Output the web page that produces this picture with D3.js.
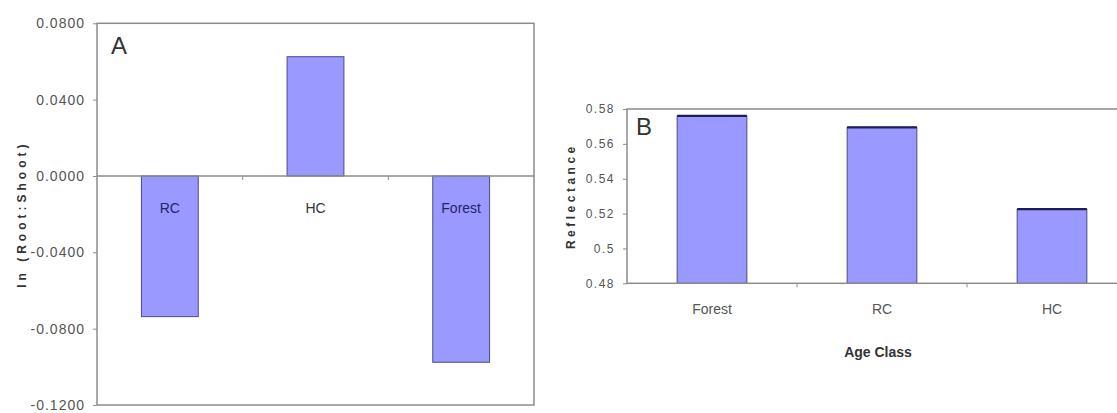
<!DOCTYPE html>
<html>
<head>
<meta charset="utf-8">
<script src="https://cdn.jsdelivr.net/npm/d3@7"></script>
<style>
  html, body { margin: 0; padding: 0; background: #fff; }
  svg { display: block; }
  text { font-family: "Liberation Sans", Arial, sans-serif; }
</style>
</head>
<body>
<svg id="chart" width="1117" height="413"></svg>
<script>
// ---------- Data ----------
const categoriesA = ["RC", "HC", "Forest"];
const valuesA = [-0.0737, 0.0625, -0.0976];
const ticksA = [-0.12, -0.08, -0.04, 0.0, 0.04, 0.08];

const categoriesB = ["Forest", "RC", "HC"];
const valuesB = [0.576, 0.5695, 0.5225];
const ticksB = [0.48, 0.50, 0.52, 0.54, 0.56, 0.58];

const yTitleA = "ln (Root:Shoot)";
const yTitleB = "Reflectance";
const xTitleB = "Age Class";

// ---------- Styles ----------
const barFill = "#9999ff";
const barStroke = "#4a4a8c";
const barTop = "#1e1e55";
const frameColor = "#8c8c8c";
const tickTextColor = "#555";

const svg = d3.select("#chart");

// ================= Panel A =================
const A = { left: 97, right: 534, top: 23.3, bottom: 405 };
const xA = d3.scaleBand().domain(categoriesA).range([A.left, A.right])
  .paddingInner(0.61).paddingOuter(0.305);
const yA = d3.scaleLinear().domain([-0.12, 0.08]).range([A.bottom, A.top]);

const gA = svg.append("g");

// bars
gA.selectAll("rect.bar").data(categoriesA).join("rect")
  .attr("class", "bar")
  .attr("x", d => xA(d))
  .attr("width", xA.bandwidth())
  .attr("y", (d, i) => yA(Math.max(0, valuesA[i])))
  .attr("height", (d, i) => Math.abs(yA(valuesA[i]) - yA(0)))
  .attr("fill", barFill)
  .attr("stroke", barStroke)
  .attr("stroke-width", 1);

// frame
gA.append("rect")
  .attr("x", A.left).attr("y", A.top)
  .attr("width", A.right - A.left).attr("height", A.bottom - A.top)
  .attr("fill", "none").attr("stroke", frameColor).attr("stroke-width", 1.5);

// zero (category) axis line
gA.append("line")
  .attr("x1", A.left).attr("x2", A.right)
  .attr("y1", yA(0)).attr("y2", yA(0))
  .attr("stroke", frameColor).attr("stroke-width", 1.5);

// category boundary ticks
gA.selectAll("line.ctick").data(d3.range(1, categoriesA.length)).join("line")
  .attr("class", "ctick")
  .attr("x1", i => A.left + i * xA.step()).attr("x2", i => A.left + i * xA.step())
  .attr("y1", yA(0)).attr("y2", yA(0) + 4)
  .attr("stroke", frameColor);

// y axis
const axA = gA.append("g")
  .attr("transform", `translate(${A.left},0)`)
  .call(d3.axisLeft(yA).tickValues(ticksA)
    .tickFormat(d => d.toFixed(4)).tickSize(4).tickPadding(8));
axA.select(".domain").remove();
axA.selectAll(".tick line").attr("stroke", frameColor);
axA.selectAll(".tick text")
  .attr("fill", tickTextColor)
  .style("font-size", "14px")
  .style("font-family", "'Liberation Sans Narrow', 'Liberation Sans', Arial, sans-serif")
  .style("letter-spacing", "1px");

// category labels
gA.selectAll("text.cat").data(categoriesA).join("text")
  .attr("class", "cat")
  .attr("x", d => xA(d) + xA.bandwidth() / 2)
  .attr("y", yA(0) + 37)
  .attr("text-anchor", "middle")
  .attr("fill", (d, i) => valuesA[i] < 0 ? "#242466" : "#333")
  .style("font-size", "14px")
  .text(d => d);

// panel letter
gA.append("text").attr("x", 111).attr("y", 54)
  .attr("fill", "#333").style("font-size", "24px").text("A");

// y title
gA.append("text")
  .attr("transform", `translate(26,${(A.top + A.bottom) / 2}) rotate(-90)`)
  .attr("text-anchor", "middle")
  .attr("fill", "#333")
  .style("font-size", "12px").style("font-weight", "bold")
  .style("letter-spacing", "4px")
  .text(yTitleA);

// ================= Panel B =================
const B = { left: 627, right: 1137, top: 109, bottom: 283.3 };
const xB = d3.scaleBand().domain(categoriesB).range([B.left, B.right])
  .paddingInner(0.59).paddingOuter(0.295);
const yB = d3.scaleLinear().domain([0.48, 0.58]).range([B.bottom, B.top]);

const gB = svg.append("g");

// bars
gB.selectAll("rect.bar").data(categoriesB).join("rect")
  .attr("class", "bar")
  .attr("x", d => xB(d))
  .attr("width", xB.bandwidth())
  .attr("y", (d, i) => yB(valuesB[i]))
  .attr("height", (d, i) => yB(0.48) - yB(valuesB[i]))
  .attr("fill", barFill)
  .attr("stroke", barStroke)
  .attr("stroke-width", 1);

// darker top edges
gB.selectAll("line.btop").data(categoriesB).join("line")
  .attr("class", "btop")
  .attr("x1", d => xB(d)).attr("x2", d => xB(d) + xB.bandwidth())
  .attr("y1", (d, i) => yB(valuesB[i])).attr("y2", (d, i) => yB(valuesB[i]))
  .attr("stroke", barTop).attr("stroke-width", 2.2);

// frame
gB.append("rect")
  .attr("x", B.left).attr("y", B.top)
  .attr("width", B.right - B.left).attr("height", B.bottom - B.top)
  .attr("fill", "none").attr("stroke", frameColor).attr("stroke-width", 1.5);

// category boundary ticks
gB.selectAll("line.ctick").data(d3.range(1, categoriesB.length)).join("line")
  .attr("class", "ctick")
  .attr("x1", i => B.left + i * xB.step()).attr("x2", i => B.left + i * xB.step())
  .attr("y1", B.bottom).attr("y2", B.bottom + 4)
  .attr("stroke", frameColor);

// y axis
const axB = gB.append("g")
  .attr("transform", `translate(${B.left},0)`)
  .call(d3.axisLeft(yB).tickValues(ticksB)
    .tickFormat(d => String(+d.toFixed(2))).tickSize(4).tickPadding(8));
axB.select(".domain").remove();
axB.selectAll(".tick line").attr("stroke", frameColor);
axB.selectAll(".tick text")
  .attr("fill", tickTextColor)
  .style("font-size", "12px")
  .style("font-family", "'Liberation Sans Narrow', 'Liberation Sans', Arial, sans-serif")
  .style("letter-spacing", "1.5px");

// category labels
gB.selectAll("text.cat").data(categoriesB).join("text")
  .attr("class", "cat")
  .attr("x", d => xB(d) + xB.bandwidth() / 2)
  .attr("y", 314)
  .attr("text-anchor", "middle")
  .attr("fill", tickTextColor)
  .style("font-size", "14px")
  .text(d => d);

// x title
gB.append("text")
  .attr("x", 878).attr("y", 357)
  .attr("text-anchor", "middle")
  .attr("fill", "#333")
  .style("font-size", "14px").style("font-weight", "bold")
  .text(xTitleB);

// panel letter
gB.append("text").attr("x", 636).attr("y", 135)
  .attr("fill", "#333").style("font-size", "24px").text("B");

// y title
gB.append("text")
  .attr("transform", `translate(575,${(B.top + B.bottom) / 2}) rotate(-90)`)
  .attr("text-anchor", "middle")
  .attr("fill", "#333")
  .style("font-size", "12px").style("font-weight", "bold")
  .style("letter-spacing", "3.5px")
  .text(yTitleB);
</script>
</body>
</html>
